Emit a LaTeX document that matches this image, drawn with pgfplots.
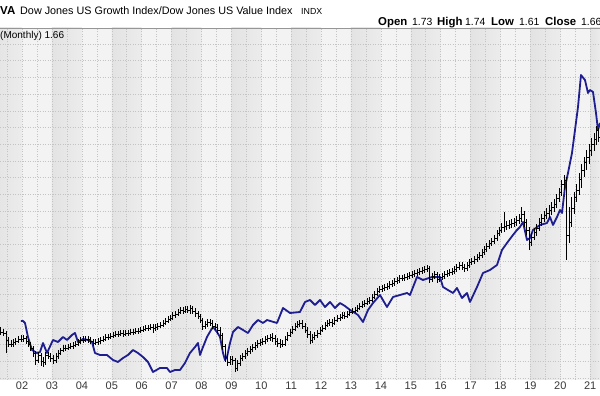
\documentclass[border=0pt]{standalone}
\usepackage{pgfplots}
\usepackage{pgfplotstable}
\pgfplotsset{compat=1.18}
\usepackage{fontspec}
\setmainfont{Liberation Sans}
\definecolor{bandA}{RGB}{227,227,227}
\definecolor{bandAr}{RGB}{236,236,236}
\definecolor{bandB}{RGB}{243,243,243}
\definecolor{gridc}{RGB}{196,196,196}
\definecolor{blueline}{RGB}{30,30,145}
\definecolor{frame}{RGB}{150,150,150}

% monthly OHLC of the ratio (chart units)
\pgfplotstableread{
x o h l c
2001.29 50 53 45 48
2001.38 48 51 44 47
2001.46 47 49 27 40
2001.54 40 43 33 36
2001.63 36 40 33 36
2001.71 36 41 33 38
2001.79 38 42 35 39
2001.88 39 44 37 41
2001.96 41 45 38 41
2002.04 41 45 38 42
2002.13 42 44 36 39
2002.21 39 41 33 36
2002.29 36 38 29 32
2002.38 32 34 23 27
2002.46 27 29 15 20
2002.54 20 28 17 25
2002.63 25 27 14 19
2002.71 19 23 13 18
2002.79 18 28 15 25
2002.88 25 28 21 24
2002.96 24 27 18 22
2003.04 22 25 16 20
2003.13 20 27 17 24
2003.21 24 30 21 27
2003.29 27 32 25 30
2003.38 30 35 28 32
2003.46 32 35 29 32
2003.54 32 36 30 33
2003.63 33 37 31 34
2003.71 34 38 31 35
2003.79 35 39 33 36
2003.88 36 41 34 38
2003.96 38 43 36 40
2004.04 40 44 37 40
2004.13 40 44 38 41
2004.21 41 44 37 41
2004.29 41 43 36 39
2004.38 39 41 34 37
2004.46 37 41 35 38
2004.54 38 42 35 39
2004.63 39 43 36 40
2004.71 40 44 38 41
2004.79 41 46 39 43
2004.88 43 46 40 43
2004.96 43 47 41 44
2005.04 44 48 42 45
2005.13 45 49 43 46
2005.21 46 49 43 46
2005.29 46 50 44 47
2005.38 47 50 43 46
2005.46 46 50 44 47
2005.54 47 50 44 47
2005.63 47 51 45 48
2005.71 48 51 45 48
2005.79 48 52 46 49
2005.88 49 52 46 49
2005.96 49 53 47 50
2006.04 50 54 48 51
2006.13 51 55 49 52
2006.21 52 55 49 52
2006.29 52 56 50 53
2006.38 53 56 47 52
2006.46 52 56 49 53
2006.54 53 57 50 54
2006.63 54 58 52 55
2006.71 55 60 53 57
2006.79 57 62 55 59
2006.88 59 64 57 61
2006.96 61 65 59 62
2007.04 62 68 60 65
2007.13 65 69 62 66
2007.21 66 71 64 68
2007.29 68 73 66 70
2007.38 70 73 66 69
2007.46 69 74 67 71
2007.54 71 74 67 70
2007.63 70 75 66 72
2007.71 72 74 66 69
2007.79 69 72 63 67
2007.88 67 69 61 64
2007.96 64 66 57 60
2008.04 60 62 50 54
2008.13 54 59 51 56
2008.21 56 61 53 58
2008.29 58 61 54 57
2008.38 57 60 51 54
2008.46 54 57 50 53
2008.54 53 56 46 50
2008.63 50 53 41 45
2008.71 45 47 30 34
2008.79 34 36 18 23
2008.88 23 26 14 18
2008.96 18 24 15 21
2009.04 21 24 15 20
2009.13 20 22 8 12
2009.21 12 20 9 17
2009.29 17 25 14 22
2009.38 22 27 19 24
2009.46 24 30 21 27
2009.54 27 32 24 29
2009.63 29 34 26 31
2009.71 31 36 28 33
2009.79 33 38 30 35
2009.88 35 40 32 37
2009.96 37 41 34 38
2010.04 38 42 35 39
2010.13 39 44 36 41
2010.21 41 45 38 42
2010.29 42 46 39 43
2010.38 43 47 38 42
2010.46 42 45 35 39
2010.54 39 42 33 37
2010.63 37 41 32 36
2010.71 36 40 33 36
2010.79 36 44 34 41
2010.88 41 48 39 45
2010.96 45 51 43 48
2011.04 48 54 46 51
2011.13 51 57 49 54
2011.21 54 59 52 56
2011.29 56 60 53 57
2011.38 57 60 51 54
2011.46 54 57 47 50
2011.54 50 53 42 46
2011.63 46 49 36 40
2011.71 40 46 37 43
2011.79 43 48 40 45
2011.88 45 50 42 47
2011.96 47 53 45 50
2012.04 50 55 48 52
2012.13 52 58 50 55
2012.21 55 60 53 57
2012.29 57 61 54 58
2012.38 58 61 53 57
2012.46 57 63 55 60
2012.54 60 65 58 62
2012.63 62 66 59 63
2012.71 63 68 61 65
2012.79 65 68 61 64
2012.88 64 69 62 66
2012.96 66 71 64 68
2013.04 68 72 66 69
2013.13 69 73 67 70
2013.21 70 75 68 72
2013.29 72 77 70 74
2013.38 74 79 72 76
2013.46 76 80 73 77
2013.54 77 82 75 79
2013.63 79 83 76 80
2013.71 80 86 78 83
2013.79 83 89 81 86
2013.88 86 92 84 89
2013.96 89 94 87 91
2014.04 91 95 88 92
2014.13 92 96 89 93
2014.21 93 97 90 94
2014.29 94 99 91 96
2014.38 96 100 93 97
2014.46 97 102 94 99
2014.54 99 103 96 100
2014.63 100 105 97 102
2014.71 102 105 99 102
2014.79 102 106 99 103
2014.88 103 107 100 104
2014.96 104 108 101 105
2015.04 105 109 102 106
2015.13 106 110 103 107
2015.21 107 111 104 108
2015.29 108 112 105 109
2015.38 109 113 106 110
2015.46 110 114 107 111
2015.54 111 115 108 112
2015.63 112 114 97 101
2015.71 101 107 98 104
2015.79 104 109 101 106
2015.88 106 108 97 101
2015.96 101 106 98 103
2016.04 103 107 100 104
2016.13 104 109 101 106
2016.21 106 110 103 107
2016.29 107 111 104 108
2016.38 108 112 105 109
2016.46 109 114 106 111
2016.54 111 116 108 113
2016.63 113 118 110 115
2016.71 115 118 110 113
2016.79 113 116 108 112
2016.88 112 118 109 115
2016.96 115 121 112 118
2017.04 118 122 115 119
2017.13 119 124 116 121
2017.21 121 126 118 123
2017.29 123 128 120 125
2017.38 125 131 122 128
2017.46 128 134 125 131
2017.54 131 137 128 134
2017.63 134 140 131 137
2017.71 137 142 134 139
2017.79 139 145 136 142
2017.88 142 150 139 147
2017.96 147 153 144 150
2018.04 150 157 147 153
2018.13 153 168 148 154
2018.21 154 159 150 155
2018.29 155 160 151 156
2018.38 156 161 152 157
2018.46 157 162 153 158
2018.54 158 164 154 160
2018.63 160 166 156 162
2018.71 162 173 158 166
2018.79 166 169 153 158
2018.88 158 161 145 150
2018.96 150 153 130 138
2019.04 138 147 134 143
2019.13 143 152 140 148
2019.21 148 156 144 152
2019.29 152 162 149 158
2019.38 158 166 154 162
2019.46 162 169 158 165
2019.54 165 172 161 167
2019.63 167 175 162 170
2019.71 170 178 165 173
2019.79 173 181 168 176
2019.88 176 186 172 182
2019.96 182 192 178 188
2020.04 188 200 184 196
2020.13 196 205 190 200
2020.21 200 203 120 145
2020.29 145 173 137 158
2020.38 158 183 153 172
2020.46 172 188 166 183
2020.54 183 196 178 190
2020.63 190 207 185 201
2020.71 201 216 192 210
2020.79 210 223 203 218
2020.88 218 230 210 223
2020.96 223 236 216 230
2021.04 230 242 224 236
2021.13 236 247 229 241
2021.21 241 254 235 250
2021.29 250 252 238 243
}\ohlc

% overlay line (chart units)
\pgfplotstableread{
x v
2001.963 59
2002.030 59
2002.097 57
2002.197 43
2002.331 30
2002.498 27
2002.599 28
2002.699 37
2002.833 27
2003.033 40
2003.201 38
2003.368 43
2003.502 40
2003.669 45
2003.769 47
2003.870 38
2004.037 41
2004.204 40
2004.338 38
2004.438 27
2004.605 25
2004.839 25
2005.040 20
2005.207 18
2005.375 22
2005.542 25
2005.709 30
2005.876 27
2006.043 23
2006.211 18
2006.378 8
2006.612 12
2006.846 12
2006.946 8
2007.114 10
2007.281 10
2007.448 17
2007.615 27
2007.783 33
2007.883 37
2007.950 25
2008.050 33
2008.184 43
2008.318 50
2008.385 53
2008.518 48
2008.619 43
2008.719 27
2008.786 20
2008.853 23
2008.953 37
2009.054 48
2009.221 53
2009.388 50
2009.555 47
2009.722 55
2009.890 60
2010.057 57
2010.191 60
2010.525 57
2010.726 72
2010.960 67
2011.294 68
2011.462 78
2011.629 80
2011.796 75
2011.963 80
2012.130 73
2012.298 78
2012.465 72
2012.632 77
2012.799 74
2012.967 70
2013.134 67
2013.234 65
2013.401 58
2013.569 70
2013.736 77
2013.970 85
2014.204 73
2014.405 83
2014.873 87
2014.973 85
2015.207 103
2015.408 100
2015.709 103
2015.977 103
2016.077 93
2016.411 87
2016.545 92
2016.712 82
2016.880 87
2016.980 78
2017.214 93
2017.415 107
2017.649 110
2017.883 115
2018.050 130
2018.217 137
2018.418 145
2018.552 150
2018.652 153
2018.753 158
2018.886 140
2018.987 142
2019.087 150
2019.321 155
2019.555 157
2019.656 163
2019.756 155
2019.890 163
2019.990 170
2020.057 167
2020.157 193
2020.258 207
2020.391 227
2020.492 250
2020.592 273
2020.692 305
2020.826 300
2020.926 287
2020.993 290
2021.094 288
2021.194 267
2021.261 250
2021.328 257
}\overlay

\begin{document}
\begin{tikzpicture}
\begin{axis}[
  at={(0pt,16pt)}, anchor=south west,
  scale only axis, width=600pt, height=352pt,
  xmin=2001.261, xmax=2021.328, ymin=0, ymax=352,
  set layers,
  axis line style={draw=none},
  xtick={2002,2003,...,2021},
  xticklabels={02,03,04,05,06,07,08,09,10,11,12,13,14,15,16,17,18,19,20,21},
  minor xtick={2001.5,2002.5,...,2021.5},
  ytick={2,18.7,...,337},
  yticklabels={},
  xmajorgrids, xminorgrids, ymajorgrids,
  grid style={gridc, dash pattern=on 1pt off 1.5pt, line width=0.5pt},
  minor grid style={gridc, dash pattern=on 1pt off 1.5pt, line width=0.5pt},
  major tick length=0pt, minor tick length=0pt,
  xtick style={draw=none}, ytick style={draw=none},
  xticklabel style={font=\fontsize{11}{13}\selectfont, text=black!78, inner sep=2pt},
]
\begin{pgfonlayer}{axis background}
  \fill[bandB] (rel axis cs:0,0) rectangle (rel axis cs:1,1);
  \pgfplotsinvokeforeach{2001,2003,2005,2007,2009,2011,2013,2015,2017,2019}{
    \shade[left color=bandA, right color=bandAr] (axis cs:#1,0) rectangle (axis cs:#1.999,352);
  }
  \shade[left color=bandA, right color=bandAr] (axis cs:2021,0) rectangle (axis cs:2021.328,352);
\end{pgfonlayer}

\addplot[blueline, line width=1.8pt, line join=round, mark=none] table[x=x, y=v] {\overlay};

\addplot[draw=none, mark=none, forget plot,
  error bars/.cd, y dir=plus, y explicit, error mark=none,
  error bar style={black, solid, line width=0.75pt}]
  table[x=x, y=l, y error expr=\thisrow{h}-\thisrow{l}] {\ohlc};
\addplot[only marks, mark=-, mark size=1.05pt,
  mark options={xshift=-1.05pt, line width=0.75pt, black, solid}] table[x=x, y=o] {\ohlc};
\addplot[only marks, mark=-, mark size=1.05pt,
  mark options={xshift=1.05pt, line width=0.75pt, black, solid}] table[x=x, y=c] {\ohlc};

\draw[frame, line width=0.8pt] (rel axis cs:0,1) -- (rel axis cs:1,1);
\draw[frame, line width=0.8pt] (rel axis cs:0,0) -- (rel axis cs:1,0);
\node[anchor=north west, inner sep=0pt, yshift=-3.5pt, font=\fontsize{10}{12}\selectfont] at (rel axis cs:0,1) {(Monthly) 1.66};
\end{axis}

% header
\node[anchor=base west, inner sep=0pt, font=\fontsize{11.5}{13}\selectfont\bfseries] at (0pt,381pt) {VA};
\node[anchor=base west, inner sep=0pt, font=\fontsize{10.8}{13}\selectfont] at (20pt,381pt) {Dow Jones US Growth Index/Dow Jones US Value Index};
\node[anchor=base west, inner sep=0pt, font=\fontsize{8.8}{11}\selectfont] at (301pt,381pt) {INDX};

\node[anchor=base west, inner sep=0pt, font=\fontsize{11.4}{13}\selectfont\bfseries] at (378pt,370pt) {Open};
\node[anchor=base west, inner sep=0pt, font=\fontsize{10.4}{12}\selectfont] at (412pt,370pt) {1.73};
\node[anchor=base west, inner sep=0pt, font=\fontsize{11.4}{13}\selectfont\bfseries] at (437pt,370pt) {High};
\node[anchor=base west, inner sep=0pt, font=\fontsize{10.4}{12}\selectfont] at (465pt,370pt) {1.74};
\node[anchor=base west, inner sep=0pt, font=\fontsize{11.4}{13}\selectfont\bfseries] at (491pt,370pt) {Low};
\node[anchor=base west, inner sep=0pt, font=\fontsize{10.4}{12}\selectfont] at (519pt,370pt) {1.61};
\node[anchor=base west, inner sep=0pt, font=\fontsize{11.4}{13}\selectfont\bfseries] at (545pt,370pt) {Close};
\node[anchor=base west, inner sep=0pt, font=\fontsize{10.4}{12}\selectfont] at (581pt,370pt) {1.66};

\pgfresetboundingbox
\useasboundingbox (0pt,0pt) rectangle (600pt,396pt);
\end{tikzpicture}
\end{document}
